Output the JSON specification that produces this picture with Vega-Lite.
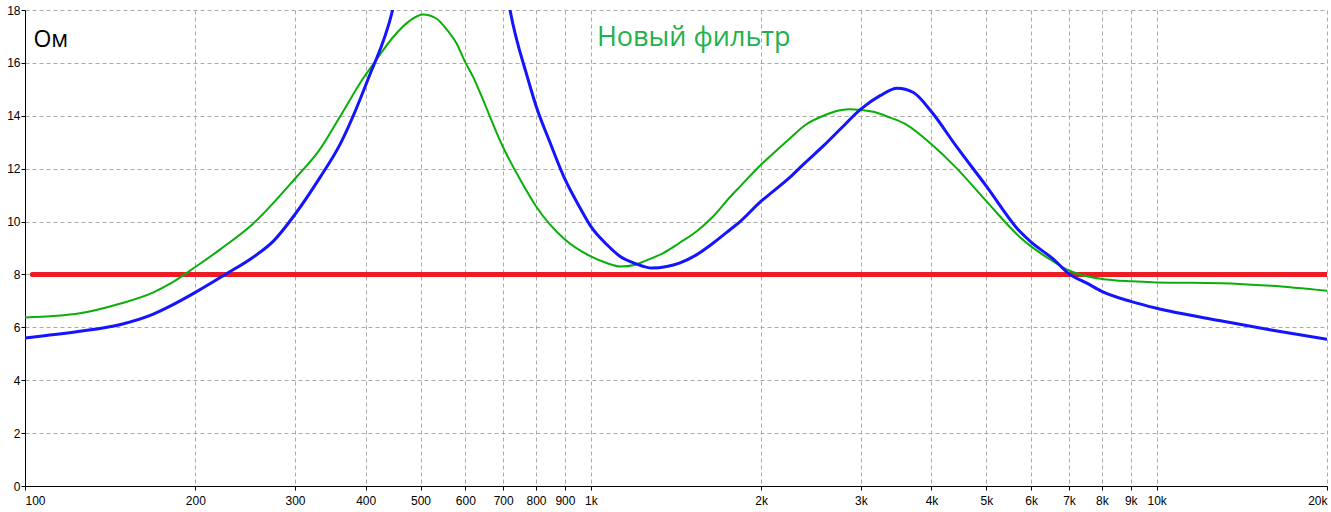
{
  "$schema": "https://vega.github.io/schema/vega-lite/v6.json",
  "autosize": "none",
  "padding": {"left": 25, "top": 10, "right": 4, "bottom": 26},
  "width": 1302,
  "height": 476,
  "background": "white",
  "config": {"view": {"stroke": null}},
  "datasets": {
    "green": [
      {"f": 100, "v": 6.37}, {"f": 125, "v": 6.53}, {"f": 147, "v": 6.89}, {"f": 168.6, "v": 7.32},
      {"f": 180.5, "v": 7.65}, {"f": 200, "v": 8.28}, {"f": 221, "v": 8.94}, {"f": 253, "v": 9.92},
      {"f": 300, "v": 11.62}, {"f": 332, "v": 12.73}, {"f": 360, "v": 13.95}, {"f": 396, "v": 15.42},
      {"f": 416, "v": 16.06}, {"f": 447, "v": 16.97}, {"f": 479, "v": 17.6}, {"f": 505, "v": 17.83},
      {"f": 534, "v": 17.67}, {"f": 555, "v": 17.29}, {"f": 579.5, "v": 16.72}, {"f": 600, "v": 16.02},
      {"f": 620, "v": 15.45}, {"f": 636, "v": 14.91}, {"f": 700, "v": 12.8}, {"f": 750, "v": 11.59},
      {"f": 800, "v": 10.58}, {"f": 900, "v": 9.32}, {"f": 1000, "v": 8.68}, {"f": 1067, "v": 8.43},
      {"f": 1127, "v": 8.3}, {"f": 1199, "v": 8.37}, {"f": 1254, "v": 8.53}, {"f": 1343, "v": 8.81},
      {"f": 1434, "v": 9.19}, {"f": 1539, "v": 9.63}, {"f": 1646, "v": 10.2}, {"f": 1764, "v": 10.94},
      {"f": 1838, "v": 11.34}, {"f": 2000, "v": 12.16}, {"f": 2102, "v": 12.58}, {"f": 2250, "v": 13.15},
      {"f": 2393, "v": 13.65}, {"f": 2576, "v": 14.0}, {"f": 2758, "v": 14.21}, {"f": 2872, "v": 14.25},
      {"f": 3158, "v": 14.15}, {"f": 3380, "v": 13.93}, {"f": 3617, "v": 13.66}, {"f": 4000, "v": 12.92},
      {"f": 4420, "v": 12.04}, {"f": 5000, "v": 10.77}, {"f": 5727, "v": 9.42}, {"f": 6000, "v": 9.06},
      {"f": 6567, "v": 8.49}, {"f": 7000, "v": 8.15}, {"f": 7526, "v": 7.93}, {"f": 8000, "v": 7.83},
      {"f": 9000, "v": 7.74}, {"f": 10000, "v": 7.7}, {"f": 12970, "v": 7.67}, {"f": 15930, "v": 7.57},
      {"f": 20000, "v": 7.38}
    ],
    "blue": [
      {"f": 100, "v": 5.6}, {"f": 125, "v": 5.85}, {"f": 147, "v": 6.1}, {"f": 168.6, "v": 6.5},
      {"f": 180.5, "v": 6.8}, {"f": 200, "v": 7.32}, {"f": 226, "v": 8.0}, {"f": 253, "v": 8.65},
      {"f": 274.5, "v": 9.25}, {"f": 300, "v": 10.27}, {"f": 332, "v": 11.66}, {"f": 360, "v": 12.9},
      {"f": 404, "v": 15.39}, {"f": 447, "v": 18.05}, {"f": 480, "v": 21.5}, {"f": 520, "v": 25},
      {"f": 560, "v": 27}, {"f": 600, "v": 27}, {"f": 640, "v": 25}, {"f": 680, "v": 21.5},
      {"f": 719, "v": 18.05}, {"f": 774, "v": 15.4}, {"f": 800, "v": 14.38}, {"f": 847, "v": 12.99},
      {"f": 900, "v": 11.6}, {"f": 957, "v": 10.52}, {"f": 1000, "v": 9.82}, {"f": 1067, "v": 9.13},
      {"f": 1127, "v": 8.68}, {"f": 1199, "v": 8.41}, {"f": 1283, "v": 8.24}, {"f": 1362, "v": 8.3},
      {"f": 1434, "v": 8.43}, {"f": 1539, "v": 8.75}, {"f": 1646, "v": 9.19}, {"f": 1764, "v": 9.7},
      {"f": 1838, "v": 10.01}, {"f": 2000, "v": 10.77}, {"f": 2102, "v": 11.15}, {"f": 2250, "v": 11.68},
      {"f": 2393, "v": 12.23}, {"f": 2576, "v": 12.86}, {"f": 2758, "v": 13.49}, {"f": 3000, "v": 14.25},
      {"f": 3245, "v": 14.76}, {"f": 3478, "v": 15.04}, {"f": 3716, "v": 14.88}, {"f": 4000, "v": 14.15},
      {"f": 4420, "v": 12.86}, {"f": 5000, "v": 11.34}, {"f": 5727, "v": 9.63}, {"f": 6000, "v": 9.22},
      {"f": 6567, "v": 8.58}, {"f": 7000, "v": 8.02}, {"f": 7526, "v": 7.67}, {"f": 8000, "v": 7.36},
      {"f": 9000, "v": 6.98}, {"f": 10000, "v": 6.72}, {"f": 12970, "v": 6.25}, {"f": 15930, "v": 5.9},
      {"f": 20000, "v": 5.55}
    ],
    "red": [{"f": 103, "v": 8}, {"f": 20000, "v": 8}],
    "labels": [
      {"f": 103.5, "v": 16.6, "t": "Ом", "k": "om"},
      {"f": 1025, "v": 16.63, "t": "Новый фильтр", "k": "title"}
    ]
  },
  "encoding": {
    "x": {
      "field": "f", "type": "quantitative",
      "scale": {"type": "log", "domain": [100, 20000], "nice": false, "zero": false},
      "axis": {
        "title": null,
        "values": [100, 200, 300, 400, 500, 600, 700, 800, 900, 1000, 2000, 3000, 4000, 5000, 6000, 7000, 8000, 9000, 10000, 20000],
        "labelExpr": "datum.value >= 1000 ? (datum.value / 1000) + 'k' : datum.value",
        "labelFlush": true,
        "labelFont": "Liberation Sans", "labelFontSize": 12, "labelColor": "black",
        "labelPadding": 5, "labelOverlap": false,
        "tickSize": 4, "tickColor": "black", "domainColor": "black", "domainWidth": 1,
        "grid": true, "gridColor": "#aaaaaa", "gridDash": [4, 3], "gridWidth": 1
      }
    },
    "y": {
      "field": "v", "type": "quantitative",
      "scale": {"domain": [0, 18], "nice": false, "zero": true},
      "axis": {
        "title": null,
        "values": [0, 2, 4, 6, 8, 10, 12, 14, 16, 18],
        "labelFont": "Liberation Sans", "labelFontSize": 12, "labelColor": "black",
        "labelPadding": 1, "labelFlush": false,
        "tickSize": 4, "tickColor": "black", "domainColor": "black", "domainWidth": 1,
        "grid": true, "gridColor": "#aaaaaa", "gridDash": [4, 3], "gridWidth": 1
      }
    }
  },
  "layer": [
    {
      "data": {"name": "red"},
      "mark": {"type": "line", "color": "#ed1c24", "strokeWidth": 5, "strokeCap": "round", "clip": true}
    },
    {
      "data": {"name": "green"},
      "mark": {"type": "line", "color": "#0aae0a", "strokeWidth": 2, "interpolate": "monotone", "clip": true}
    },
    {
      "data": {"name": "blue"},
      "mark": {"type": "line", "color": "#1414ff", "strokeWidth": 3, "interpolate": "monotone", "clip": true}
    },
    {
      "data": {"name": "labels"},
      "transform": [{"filter": "datum.k == 'om'"}],
      "mark": {"type": "text", "align": "left", "baseline": "alphabetic", "font": "Open Sans", "fontSize": 23, "color": "black"},
      "encoding": {"text": {"field": "t"}}
    },
    {
      "data": {"name": "labels"},
      "transform": [{"filter": "datum.k == 'title'"}],
      "mark": {"type": "text", "align": "left", "baseline": "alphabetic", "font": "Open Sans", "fontSize": 27, "color": "#22b14c"},
      "encoding": {"text": {"field": "t"}}
    }
  ]
}
